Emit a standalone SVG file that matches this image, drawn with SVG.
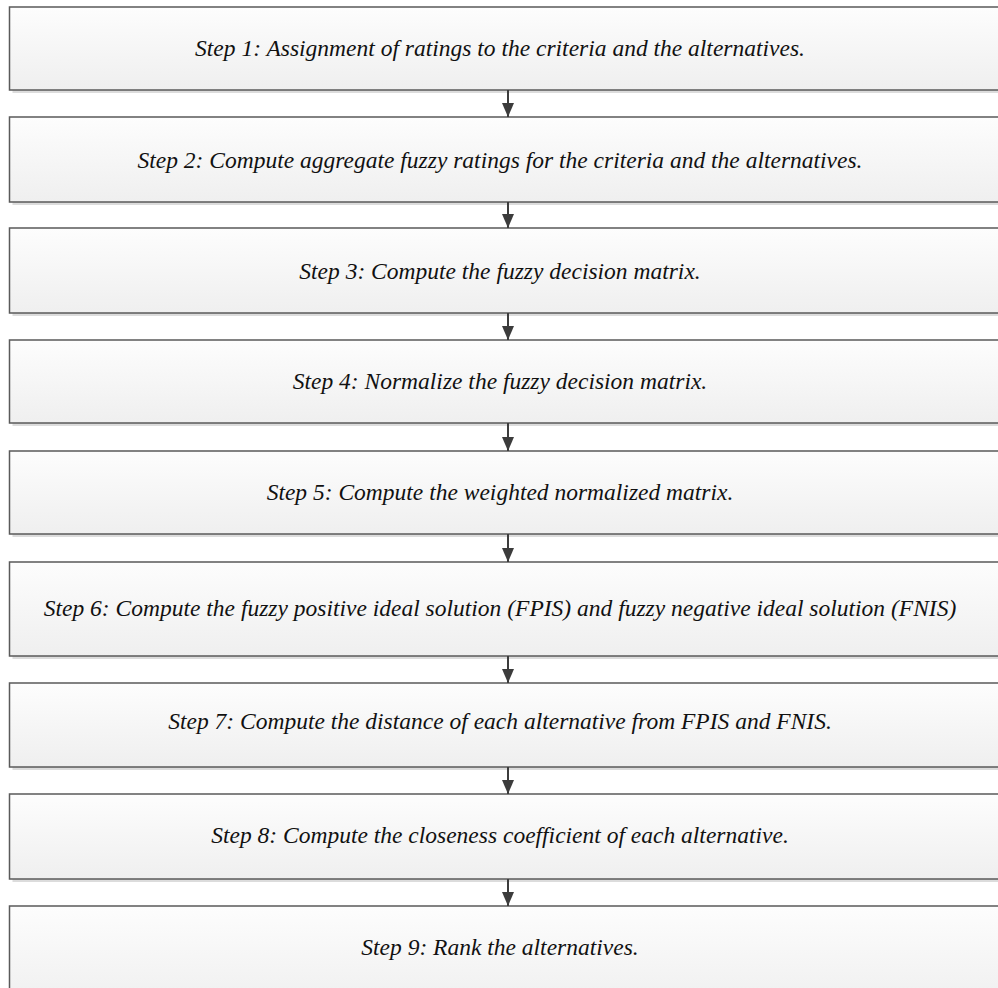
<svg xmlns="http://www.w3.org/2000/svg" width="998" height="988" viewBox="0 0 998 988">
  <defs>
    <linearGradient id="boxFill" x1="0" y1="0" x2="0" y2="1">
      <stop offset="0" stop-color="#fdfdfd"/>
      <stop offset="1" stop-color="#efefef"/>
    </linearGradient>
    <!-- arrowhead drawn along +x so orient="auto" turns it to point down the connector -->
    <marker id="arrow" markerWidth="14" markerHeight="12" refX="14" refY="6" orient="auto" markerUnits="userSpaceOnUse" viewBox="0 0 14 12">
      <path d="M0,0 L14,6 L0,12 Z" fill="#3c3c3c"/>
    </marker>
  </defs>
  <style>
    .shadow { fill: #dcdcdc; }
    .box { fill: url(#boxFill); stroke: #5a5a5a; stroke-width: 1.5; }
    .label { font-family: "Liberation Serif", "Times New Roman", serif; font-style: italic; font-size: 23.5px; fill: #111; text-anchor: middle; }
    .conn { stroke: #3c3c3c; stroke-width: 2; fill: none; }
  </style>
  <rect width="998" height="988" fill="#ffffff"/>

  <g id="step1">
    <rect class="shadow" x="12.5" y="10" width="1000" height="83"/>
    <rect class="box" x="9.5" y="7" width="1000" height="83"/>
    <text class="label" x="500" y="56">Step 1: Assignment of ratings to the criteria and the  alternatives.</text>
  </g>
  <g id="step2">
    <rect class="shadow" x="12.5" y="120" width="1000" height="85"/>
    <rect class="box" x="9.5" y="117" width="1000" height="85"/>
    <text class="label" x="500" y="168">Step 2: Compute aggregate fuzzy ratings for the criteria and the alternatives.</text>
  </g>
  <g id="step3">
    <rect class="shadow" x="12.5" y="231" width="1000" height="85"/>
    <rect class="box" x="9.5" y="228" width="1000" height="85"/>
    <text class="label" x="500" y="279">Step 3: Compute the fuzzy decision matrix.</text>
  </g>
  <g id="step4">
    <rect class="shadow" x="12.5" y="343" width="1000" height="83"/>
    <rect class="box" x="9.5" y="340" width="1000" height="83"/>
    <text class="label" x="500" y="389">Step 4: Normalize the fuzzy decision matrix.</text>
  </g>
  <g id="step5">
    <rect class="shadow" x="12.5" y="454" width="1000" height="83"/>
    <rect class="box" x="9.5" y="451" width="1000" height="83"/>
    <text class="label" x="500" y="500">Step 5: Compute the weighted normalized matrix.</text>
  </g>
  <g id="step6">
    <rect class="shadow" x="12.5" y="565" width="1000" height="94"/>
    <rect class="box" x="9.5" y="562" width="1000" height="94"/>
    <text class="label" x="500" y="616">Step 6: Compute the fuzzy positive ideal solution (FPIS) and fuzzy negative ideal solution (FNIS)</text>
  </g>
  <g id="step7">
    <rect class="shadow" x="12.5" y="686" width="1000" height="84"/>
    <rect class="box" x="9.5" y="683" width="1000" height="84"/>
    <text class="label" x="500" y="729">Step 7: Compute the distance of each alternative from FPIS and FNIS.</text>
  </g>
  <g id="step8">
    <rect class="shadow" x="12.5" y="797" width="1000" height="85"/>
    <rect class="box" x="9.5" y="794" width="1000" height="85"/>
    <text class="label" x="500" y="843">Step 8: Compute the closeness coefficient  of each alternative.</text>
  </g>
  <g id="step9">
    <rect class="shadow" x="12.5" y="909" width="1000" height="100"/>
    <rect class="box" x="9.5" y="906" width="1000" height="100"/>
    <text class="label" x="500" y="955">Step 9: Rank the alternatives.</text>
  </g>

  <g id="connectors">
    <line class="conn" x1="508" y1="90" x2="508" y2="117" marker-end="url(#arrow)"/>
    <line class="conn" x1="508" y1="202" x2="508" y2="228" marker-end="url(#arrow)"/>
    <line class="conn" x1="508" y1="313" x2="508" y2="340" marker-end="url(#arrow)"/>
    <line class="conn" x1="508" y1="423" x2="508" y2="451" marker-end="url(#arrow)"/>
    <line class="conn" x1="508" y1="534" x2="508" y2="562" marker-end="url(#arrow)"/>
    <line class="conn" x1="508" y1="656" x2="508" y2="683" marker-end="url(#arrow)"/>
    <line class="conn" x1="508" y1="767" x2="508" y2="794" marker-end="url(#arrow)"/>
    <line class="conn" x1="508" y1="879" x2="508" y2="906" marker-end="url(#arrow)"/>
  </g>
</svg>
